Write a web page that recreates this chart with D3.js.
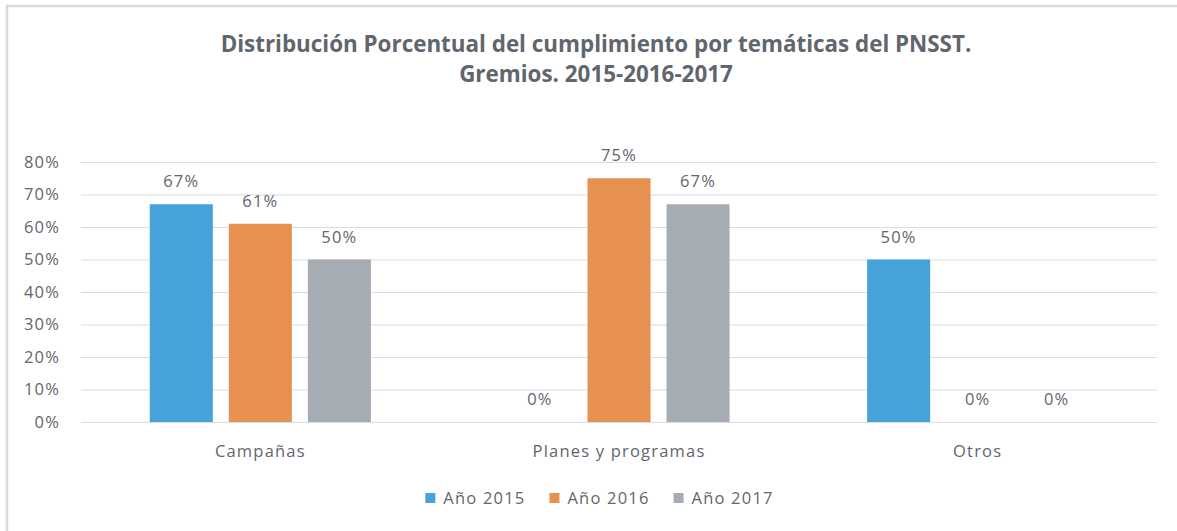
<!DOCTYPE html>
<html>
<head>
<meta charset="utf-8">
<script src="https://cdn.jsdelivr.net/npm/d3@7/dist/d3.min.js"></script>
<style>
  body { margin: 0; background: #fff; }
  svg { display: block; }
  text { font-family: "Open Sans", sans-serif; fill: #5f666d; }
</style>
</head>
<body>
<svg id="chart" width="1177" height="531"></svg>
<script>
// Temáticas del PNSST y cumplimiento por año
const categories = ["Campañas", "Planes y programas", "Otros"];
const seriesNames = ["Año 2015", "Año 2016", "Año 2017"];
const values2015 = [0.67, 0.00, 0.50];
const values2016 = [0.61, 0.75, 0.00];
const values2017 = [0.50, 0.67, 0.00];
const yTicks = [0, 0.1, 0.2, 0.3, 0.4, 0.5, 0.6, 0.7, 0.8];
const titleLines = [
  "Distribución Porcentual del cumplimiento por temáticas del PNSST.",
  "Gremios. 2015-2016-2017"
];
const colors = ["#45a3d9", "#e6914f", "#a6acb3"];

const seriesValues = [values2015, values2016, values2017];
const rows = categories.map((c, i) => ({
  cat: c,
  vals: seriesNames.map((s, j) => ({ series: s, idx: j, v: seriesValues[j][i] }))
}));

const svg = d3.select("#chart");
const W = 1177, H = 531;
const plot = { left: 81, right: 1157, top: 162, bottom: 422 };

// chart frame (left and top edges)
svg.append("path")
  .attr("d", `M7,${H} L7,6 L${W},6`)
  .attr("fill", "none")
  .attr("stroke", "#d8dbe3")
  .attr("stroke-width", 2.5);

// title
const title = svg.append("text")
  .attr("text-anchor", "middle")
  .style("font-size", "22.4px")
  .style("font-weight", "700")
  .style("fill", "#5f666d");
titleLines.forEach((t, i) => {
  title.append("tspan").attr("x", 596).attr("y", 52 + i * 30).text(t);
});

const y = d3.scaleLinear().domain([0, 0.8]).range([plot.bottom, plot.top]);
const x0 = d3.scaleBand().domain(categories).range([plot.left, plot.right])
  .paddingInner(0).paddingOuter(0);
const x1 = d3.scaleBand().domain(seriesNames).range([0, x0.bandwidth()])
  .paddingInner(0.2025).paddingOuter(0.87);

// gridlines + y labels via axis
const yAxis = d3.axisLeft(y).tickValues(yTicks).tickFormat(d3.format(".0%"))
  .tickSize(-(plot.right - plot.left)).tickPadding(21);
const gy = svg.append("g").attr("transform", `translate(${plot.left},0)`).call(yAxis);
gy.select(".domain").remove();
gy.selectAll(".tick line").attr("stroke", "#d9dce6").attr("stroke-width", 1.2);
gy.selectAll(".tick text")
  .style("font-size", "16.5px")
  .style("letter-spacing", "1.2px")
  .style("font-family", "'Open Sans', sans-serif")
  .attr("fill", "#5f666d");

// bars
const groups = svg.append("g").selectAll("g").data(rows).join("g")
  .attr("transform", d => `translate(${x0(d.cat)},0)`);

groups.selectAll("rect").data(d => d.vals).join("rect")
  .attr("x", d => x1(d.series))
  .attr("y", d => y(d.v))
  .attr("width", x1.bandwidth())
  .attr("height", d => y(0) - y(d.v))
  .attr("fill", d => colors[d.idx]);

// value labels
groups.selectAll("text.val").data(d => d.vals).join("text")
  .attr("class", "val")
  .attr("x", d => x1(d.series) + x1.bandwidth() / 2)
  .attr("y", d => y(d.v) - 17)
  .attr("text-anchor", "middle")
  .style("font-size", "16.5px")
  .style("letter-spacing", "1.2px")
  .text(d => d3.format(".0%")(d.v));

// category axis labels
const xAxis = d3.axisBottom(x0).tickSize(0).tickPadding(0);
const gx = svg.append("g").attr("transform", `translate(0,${plot.bottom})`).call(xAxis);
gx.select(".domain").remove();
gx.selectAll(".tick text")
  .attr("dy", 0).attr("y", 35)
  .style("font-size", "16.5px")
  .style("letter-spacing", "1.2px")
  .style("font-family", "'Open Sans', sans-serif")
  .attr("fill", "#5f666d");

// legend
const legend = svg.append("g");
const items = legend.selectAll("g").data(seriesNames).join("g");
items.append("rect").attr("width", 10).attr("height", 10)
  .attr("fill", (d, i) => colors[i]);
items.append("text").attr("x", 18).attr("y", 10.5)
  .style("font-size", "16.5px")
  .style("letter-spacing", "1.2px")
  .text(d => d);
let widths = [];
items.each(function () { widths.push(18 + this.querySelector("text").getComputedTextLength()); });
const gap = 24;
const total = d3.sum(widths) + gap * (widths.length - 1);
let cx = 599.5 - total / 2;
items.each(function (d, i) {
  d3.select(this).attr("transform", `translate(${cx},493)`);
  cx += widths[i] + gap;
});
</script>
</body>
</html>
